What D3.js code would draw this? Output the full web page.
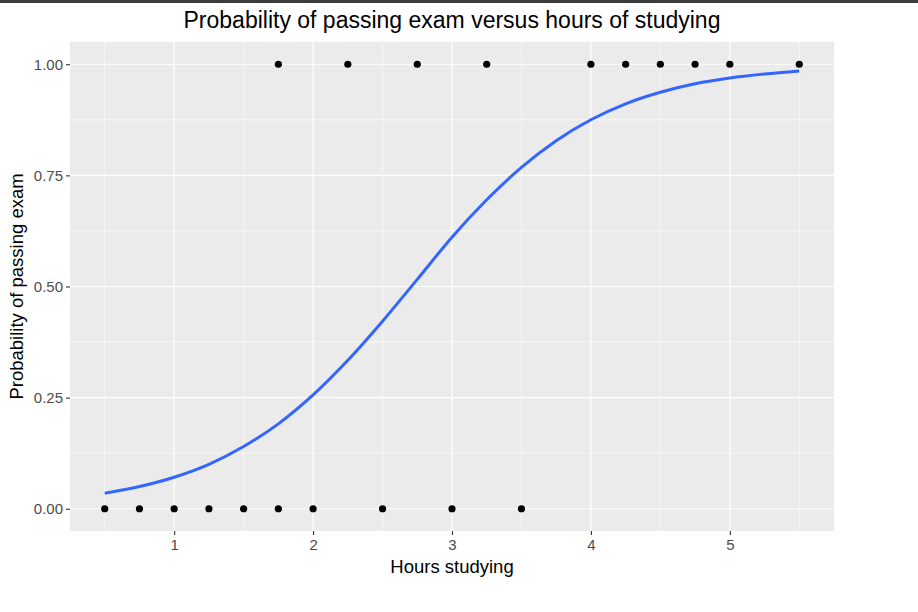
<!DOCTYPE html>
<html>
<head>
<meta charset="utf-8">
<script src="https://cdn.jsdelivr.net/npm/d3@7"></script>
<style>
  body { margin: 0; background: #fff; }
  svg { display: block; font-family: "Liberation Sans", Arial, sans-serif; }
</style>
</head>
<body>
<svg id="chart" width="918" height="612"></svg>
<script>
// observed data: hours studied and pass (1) / fail (0)
const hours = [0.5, 0.75, 1, 1.25, 1.5, 1.75, 1.75, 2, 2.25, 2.5, 2.75, 3, 3.25, 3.5, 4, 4.25, 4.5, 4.75, 5, 5.5];
const passed = [0, 0, 0, 0, 0, 0, 1, 0, 1, 0, 1, 0, 1, 0, 1, 1, 1, 1, 1, 1];

// fitted curve
const curveX = [0.5, 0.75, 1, 1.25, 1.5, 1.75, 2, 2.25, 2.5, 2.75, 3, 3.25, 3.5, 3.75, 4, 4.25, 4.5, 4.75, 5, 5.25, 5.5];
const curveY = [0.035, 0.05, 0.071, 0.1, 0.14, 0.191, 0.256, 0.334, 0.422, 0.516, 0.611, 0.695, 0.768, 0.828, 0.875, 0.911, 0.937, 0.956, 0.969, 0.978, 0.985];

const xTicks = [1, 2, 3, 4, 5];
const xMinor = [0.5, 1.5, 2.5, 3.5, 4.5, 5.5];
const yTicks = [0, 0.25, 0.5, 0.75, 1];
const yMinor = [0.125, 0.375, 0.625, 0.875];

const svg = d3.select("#chart");
const panelLeft = 70, panelRight = 834, panelTop = 42, panelBottom = 531;

const x = d3.scaleLinear().domain([0.25, 5.75]).range([panelLeft, panelRight]);
const y = d3.scaleLinear().domain([-0.05, 1.05]).range([panelBottom, panelTop]);

// top dark strip
svg.append("rect").attr("x", 0).attr("y", 0).attr("width", 918).attr("height", 3).attr("fill", "#3c3c3c");

// panel
svg.append("rect")
    .attr("x", panelLeft).attr("y", panelTop)
    .attr("width", panelRight - panelLeft).attr("height", panelBottom - panelTop)
    .attr("fill", "#ebebeb");

// grid
const grid = svg.append("g");
grid.selectAll(".xminor").data(xMinor).enter().append("line")
    .attr("x1", d => x(d)).attr("x2", d => x(d)).attr("y1", panelTop).attr("y2", panelBottom)
    .attr("stroke", "#fff").attr("stroke-width", 0.6);
grid.selectAll(".yminor").data(yMinor).enter().append("line")
    .attr("y1", d => y(d)).attr("y2", d => y(d)).attr("x1", panelLeft).attr("x2", panelRight)
    .attr("stroke", "#fff").attr("stroke-width", 0.6);
grid.selectAll(".xmajor").data(xTicks).enter().append("line")
    .attr("x1", d => x(d)).attr("x2", d => x(d)).attr("y1", panelTop).attr("y2", panelBottom)
    .attr("stroke", "#fff").attr("stroke-width", 1.2);
grid.selectAll(".ymajor").data(yTicks).enter().append("line")
    .attr("y1", d => y(d)).attr("y2", d => y(d)).attr("x1", panelLeft).attr("x2", panelRight)
    .attr("stroke", "#fff").attr("stroke-width", 1.2);

// axes
const xAxis = svg.append("g")
    .attr("transform", `translate(0,${panelBottom})`)
    .call(d3.axisBottom(x).tickValues(xTicks).tickSize(4).tickPadding(4).tickFormat(d3.format("d")));
const yAxis = svg.append("g")
    .attr("transform", `translate(${panelLeft},0)`)
    .call(d3.axisLeft(y).tickValues(yTicks).tickSize(4).tickPadding(3).tickFormat(d3.format(".2f")));

[xAxis, yAxis].forEach(a => {
    a.select(".domain").remove();
    a.selectAll(".tick line").attr("stroke", "#333").attr("stroke-width", 1.1);
    a.selectAll(".tick text").attr("fill", "#4d4d4d").style("font-size", "15px")
        .style("font-family", "'Liberation Sans', Arial, sans-serif");
});

// fitted line
const line = d3.line()
    .x((d, i) => x(curveX[i]))
    .y(d => y(d))
    .curve(d3.curveMonotoneX);

svg.append("path")
    .datum(curveY)
    .attr("fill", "none")
    .attr("stroke", "#3366ff")
    .attr("stroke-width", 3)
    .attr("d", line);

// points
svg.append("g").selectAll("circle")
    .data(hours)
    .enter().append("circle")
    .attr("cx", d => x(d))
    .attr("cy", (d, i) => y(passed[i]))
    .attr("r", 3.6)
    .attr("fill", "#000");

// titles
svg.append("text")
    .attr("x", (panelLeft + panelRight) / 2).attr("y", 28)
    .attr("text-anchor", "middle")
    .style("font-size", "23px")
    .text("Probability of passing exam versus hours of studying");

svg.append("text")
    .attr("x", (panelLeft + panelRight) / 2).attr("y", 573)
    .attr("text-anchor", "middle")
    .style("font-size", "18.5px")
    .text("Hours studying");

svg.append("text")
    .attr("transform", `translate(23,${(panelTop + panelBottom) / 2}) rotate(-90)`)
    .attr("text-anchor", "middle")
    .style("font-size", "18.5px")
    .text("Probability of passing exam");
</script>
</body>
</html>
